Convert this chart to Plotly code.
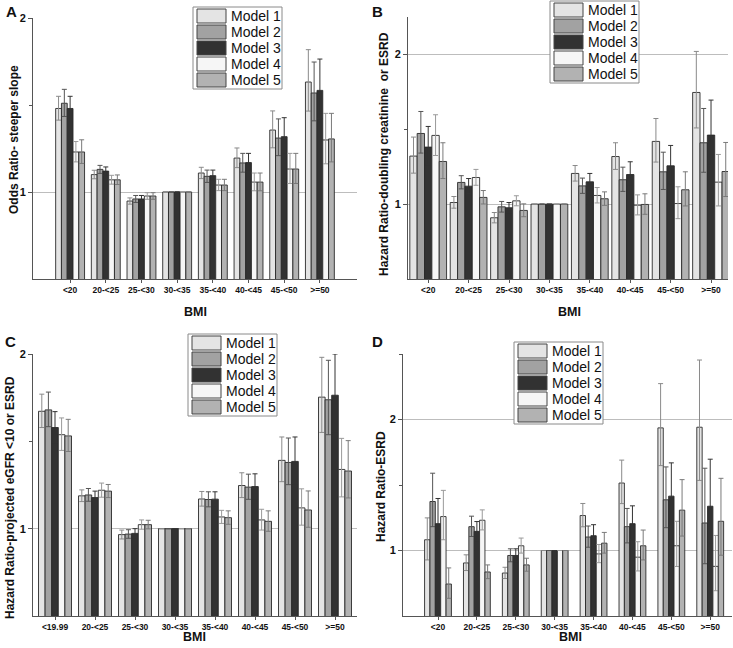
import plotly.graph_objects as go

# ---------------- data ----------------
models = ["Model 1", "Model 2", "Model 3", "Model 4", "Model 5"]
bmi_ab = ["<20", "20-<25", "25-<30", "30-<35", "35-<40", "40-<45", "45-<50", ">=50"]
bmi_c = ["<19.99", "20-<25", "25-<30", "30-<35", "35-<40", "40-<45", "45-<50", ">=50"]
bmi_d = ["<20", "20-<25", "25-<30", "30-<35", "35-<40", "40-<45", "45-<50", ">=50"]

# Panel A: Odds ratio - steeper slope (one row per model)
a_est = [
    [1.48, 1.10, 0.948, 1.0, 1.109, 1.195, 1.356, 1.632],
    [1.51, 1.13, 0.96, 1.0, 1.09, 1.167, 1.31, 1.569],
    [1.48, 1.12, 0.96, 1.0, 1.094, 1.169, 1.318, 1.584],
    [1.23, 1.07, 0.977, 1.0, 1.04, 1.057, 1.132, 1.299],
    [1.23, 1.07, 0.977, 1.0, 1.04, 1.057, 1.132, 1.305],
]
a_upper = [
    [1.55, 1.125, 0.966, 1.0, 1.142, 1.253, 1.466, 1.818],
    [1.59, 1.153, 0.98, 1.0, 1.126, 1.222, 1.42, 1.747],
    [1.55, 1.144, 0.98, 1.0, 1.126, 1.222, 1.427, 1.764],
    [1.29, 1.096, 0.996, 1.0, 1.073, 1.109, 1.222, 1.452],
    [1.30, 1.098, 0.996, 1.0, 1.073, 1.109, 1.222, 1.452],
]
a_lower = [
    [1.413, 1.076, 0.930, 1.0, 1.077, 1.140, 1.254, 1.465],
    [1.434, 1.107, 0.940, 1.0, 1.055, 1.114, 1.209, 1.409],
    [1.413, 1.096, 0.940, 1.0, 1.063, 1.118, 1.217, 1.422],
    [1.173, 1.045, 0.958, 1.0, 1.008, 1.007, 1.049, 1.162],
    [1.164, 1.043, 0.958, 1.0, 1.008, 1.007, 1.049, 1.173],
]

# Panel B: Hazard ratio - doubling creatinine or ESRD
b_est = [
    [1.321, 1.011, 0.909, 1.0, 1.205, 1.318, 1.419, 1.746],
    [1.472, 1.145, 0.982, 1.0, 1.122, 1.163, 1.216, 1.41],
    [1.381, 1.12, 0.976, 1.0, 1.149, 1.198, 1.256, 1.461],
    [1.459, 1.178, 1.022, 1.0, 1.058, 0.993, 1.004, 1.147],
    [1.285, 1.045, 0.958, 1.0, 1.036, 0.998, 1.096, 1.218],
]
b_upper = [
    [1.448, 1.051, 0.944, 1.0, 1.258, 1.41, 1.572, 2.02],
    [1.619, 1.19, 1.018, 1.0, 1.174, 1.247, 1.347, 1.639],
    [1.519, 1.171, 1.011, 1.0, 1.205, 1.283, 1.392, 1.695],
    [1.597, 1.232, 1.056, 1.0, 1.111, 1.062, 1.116, 1.332],
    [1.41, 1.091, 1.002, 1.0, 1.082, 1.069, 1.216, 1.412],
]
b_lower = [
    [1.207, 0.973, 0.875, 1.0, 1.154, 1.232, 1.281, 1.509],
    [1.341, 1.102, 0.947, 1.0, 1.072, 1.085, 1.098, 1.213],
    [1.263, 1.071, 0.942, 1.0, 1.096, 1.119, 1.133, 1.259],
    [1.325, 1.126, 0.989, 1.0, 1.008, 0.928, 0.903, 0.988],
    [1.171, 1.001, 0.916, 1.0, 0.992, 0.932, 0.988, 1.051],
]

# Panel C: Hazard ratio - projected eGFR <10 or ESRD
c_est = [
    [1.672, 1.188, 0.966, 1.0, 1.17, 1.247, 1.391, 1.753],
    [1.68, 1.193, 0.969, 1.0, 1.167, 1.238, 1.379, 1.738],
    [1.579, 1.178, 0.973, 1.0, 1.169, 1.241, 1.385, 1.764],
    [1.538, 1.22, 1.023, 1.0, 1.067, 1.05, 1.119, 1.339],
    [1.531, 1.215, 1.023, 1.0, 1.063, 1.042, 1.107, 1.33],
]
c_upper = [
    [1.77, 1.222, 0.992, 1.0, 1.213, 1.32, 1.525, 1.981],
    [1.782, 1.23, 0.994, 1.0, 1.211, 1.312, 1.519, 1.964],
    [1.67, 1.215, 1.0, 1.0, 1.211, 1.314, 1.525, 2.0],
    [1.634, 1.261, 1.05, 1.0, 1.105, 1.111, 1.228, 1.517],
    [1.626, 1.253, 1.048, 1.0, 1.102, 1.102, 1.216, 1.504],
]
c_lower = [
    [1.579, 1.155, 0.941, 1.0, 1.129, 1.178, 1.269, 1.551],
    [1.584, 1.157, 0.945, 1.0, 1.125, 1.168, 1.252, 1.538],
    [1.493, 1.142, 0.947, 1.0, 1.128, 1.172, 1.258, 1.556],
    [1.448, 1.180, 0.997, 1.0, 1.030, 0.992, 1.020, 1.182],
    [1.442, 1.178, 0.999, 1.0, 1.025, 0.985, 1.008, 1.176],
]

# Panel D: Hazard ratio - ESRD
d_est = [
    [1.082, 0.905, 0.828, 1.0, 1.267, 1.515, 1.936, 1.941],
    [1.374, 1.182, 0.962, 1.0, 1.103, 1.182, 1.387, 1.21],
    [1.205, 1.146, 0.962, 1.0, 1.113, 1.205, 1.415, 1.338],
    [1.259, 1.231, 1.036, 1.0, 0.974, 0.949, 1.036, 0.879],
    [0.744, 0.836, 0.89, 1.0, 1.056, 1.036, 1.308, 1.223],
]
d_upper = [
    [1.249, 0.967, 0.872, 1.0, 1.359, 1.69, 2.274, 2.454],
    [1.59, 1.262, 1.013, 1.0, 1.187, 1.321, 1.638, 1.628],
    [1.397, 1.221, 1.013, 1.0, 1.197, 1.341, 1.669, 1.697],
    [1.459, 1.31, 1.095, 1.0, 1.046, 1.067, 1.223, 1.115],
    [0.867, 0.89, 0.941, 1.0, 1.138, 1.156, 1.541, 1.551],
]
d_lower = [
    [0.928, 0.847, 0.786, 1.0, 1.181, 1.358, 1.648, 1.535],
    [1.182, 1.107, 0.914, 1.0, 1.025, 1.058, 1.174, 0.899],
    [1.013, 1.076, 0.914, 1.0, 1.035, 1.083, 1.200, 1.055],
    [1.082, 1.157, 0.980, 1.0, 0.907, 0.844, 0.878, 0.693],
    [0.635, 0.785, 0.842, 1.0, 0.980, 0.928, 1.110, 0.964],
]

y_titles = [
    "Odds Ratio- steeper slope",
    "Hazard Ratio-doubling creatinine  or ESRD",
    "Hazard Ratio-projected eGFR <10 or ESRD",
    "Hazard Ratio-ESRD",
]
x_title = "BMI"
panel_letters = ["A", "B", "C", "D"]

# ---------------- style / layout ----------------
W, H = 733, 648
FONT = "Liberation Sans, Arial, sans-serif"
bar_colors = ["#e4e4e4", "#a2a2a2", "#323232", "#f6f6f6", "#b2b2b2"]
err_colors = ["#8a8a8a", "#555555", "#333333", "#9a9a9a", "#7a7a7a"]


def px_x(v):
    return v / W


def px_y(v):
    return 1 - v / H


panels = [
    dict(cats=bmi_ab, est=a_est, up=a_upper, lo=a_lower, yr=[0.5, 2.0], xr=[-1.04, 8.04],
         bw=0.162, box=(33, 357, 18, 279), legend=(193, 7), ytitle=(14, 140), xtitle=(195, 312),
         letter=(4, 1)),
    dict(cats=bmi_ab, est=b_est, up=b_upper, lo=b_lower, yr=[0.5, 2.25], xr=[-0.5, 7.42],
         bw=0.182, box=(408, 728, 17, 279), legend=(550, 1), ytitle=(384, 154), xtitle=(569, 312),
         letter=(370, 1)),
    dict(cats=bmi_c, est=c_est, up=c_upper, lo=c_lower, yr=[0.5, 2.0], xr=[-0.55, 7.55],
         bw=0.165, box=(33, 357, 354, 616), legend=(188, 334), ytitle=(10, 498), xtitle=(194, 637),
         letter=(3, 331)),
    dict(cats=bmi_d, est=d_est, up=d_upper, lo=d_lower, yr=[0.5, 2.5], xr=[-0.9, 7.56],
         bw=0.138, box=(403, 732, 354, 616), legend=(514, 342), ytitle=(381, 487), xtitle=(570, 637),
         letter=(370, 331)),
]

fig = go.Figure()
layout = dict(
    template=go.layout.Template(),
    width=W, height=H,
    margin=dict(l=0, r=0, t=0, b=0, autoexpand=False),
    paper_bgcolor="white", plot_bgcolor="white",
    barmode="overlay", showlegend=False,
    font=dict(family=FONT, color="#111"),
    annotations=[], shapes=[],
)

for p_i, p in enumerate(panels):
    sfx = "" if p_i == 0 else str(p_i + 1)
    for m_i, name in enumerate(models):
        est = p["est"][m_i]
        plus = [u - e for u, e in zip(p["up"][m_i], est)]
        minus = [e - l for e, l in zip(est, p["lo"][m_i])]
        fig.add_trace(go.Bar(
            x=p["cats"], y=est, name=name,
            xaxis="x" + sfx, yaxis="y" + sfx,
            width=p["bw"], offset=-2.5 * p["bw"] + m_i * p["bw"],
            marker=dict(color=bar_colors[m_i], line=dict(color="#2a2a2a", width=0.9)),
            error_y=dict(type="data", symmetric=False, array=plus, arrayminus=minus,
                         color=err_colors[m_i], thickness=1, width=2.5),
        ))
    x0, x1, y0, y1 = p["box"]
    layout["xaxis" + sfx] = dict(
        domain=[px_x(x0), px_x(x1)], anchor="y" + sfx, type="category", range=p["xr"],
        automargin=False,
        showline=True, linecolor="#555", linewidth=1,
        ticks="outside", ticklen=3, tickcolor="#555",
        tickfont=dict(size=8.5, family=FONT, weight="bold", color="#111"),
        showgrid=False, zeroline=False,
    )
    layout["yaxis" + sfx] = dict(
        domain=[px_y(y1), px_y(y0)], anchor="x" + sfx, range=p["yr"],
        automargin=False,
        tickvals=[1, 2], ticktext=["1", "2"],
        showline=True, linecolor="#555", linewidth=1,
        ticks="outside", ticklen=4, tickcolor="#555",
        tickfont=dict(size=11, family=FONT, weight="bold", color="#111"),
        showgrid=True, gridcolor="#bdbdbd", gridwidth=1, zeroline=False,
        minor=dict(tickvals=[1.5, 2.5], ticks="outside", ticklen=3, tickcolor="#555", showgrid=False),
    )

    # axis titles
    tx, ty = p["ytitle"]
    layout["annotations"].append(dict(
        text=y_titles[p_i], xref="paper", yref="paper", x=px_x(tx), y=px_y(ty),
        xanchor="center", yanchor="middle", textangle=-90, showarrow=False,
        font=dict(size=12, family=FONT, weight="bold", color="#111"),
    ))
    bx, by = p["xtitle"]
    layout["annotations"].append(dict(
        text=x_title, xref="paper", yref="paper", x=px_x(bx), y=px_y(by),
        xanchor="center", yanchor="middle", showarrow=False,
        font=dict(size=12.5, family=FONT, weight="bold", color="#111"),
    ))
    lx, ly = p["letter"]
    layout["annotations"].append(dict(
        text=panel_letters[p_i], xref="paper", yref="paper", x=px_x(lx), y=px_y(ly),
        xanchor="left", yanchor="top", showarrow=False,
        font=dict(size=15, family=FONT, weight="bold", color="#111"),
    ))

    # legend box with large swatches (as in the original figure)
    gx, gy = p["legend"]
    layout["shapes"].append(dict(
        type="rect", xref="paper", yref="paper",
        x0=px_x(gx), x1=px_x(gx + 89), y0=px_y(gy), y1=px_y(gy + 82),
        fillcolor="white", line=dict(color="#8a8a8a", width=1), layer="above",
    ))
    for m_i, name in enumerate(models):
        sy = gy + 2 + 16 * m_i
        layout["shapes"].append(dict(
            type="rect", xref="paper", yref="paper",
            x0=px_x(gx + 4), x1=px_x(gx + 33), y0=px_y(sy), y1=px_y(sy + 14),
            fillcolor=bar_colors[m_i], line=dict(color="#444", width=1), layer="above",
        ))
        layout["annotations"].append(dict(
            text=name, xref="paper", yref="paper", x=px_x(gx + 36), y=px_y(sy + 7),
            xanchor="left", yanchor="middle", showarrow=False,
            font=dict(size=14, family=FONT, color="#111"),
        ))

fig.update_layout(**layout)
fig.write_html(
    "out.html",
    config={"displayModeBar": False},
    post_script="document.body.style.margin='0px';document.body.style.overflow='hidden';",
)
